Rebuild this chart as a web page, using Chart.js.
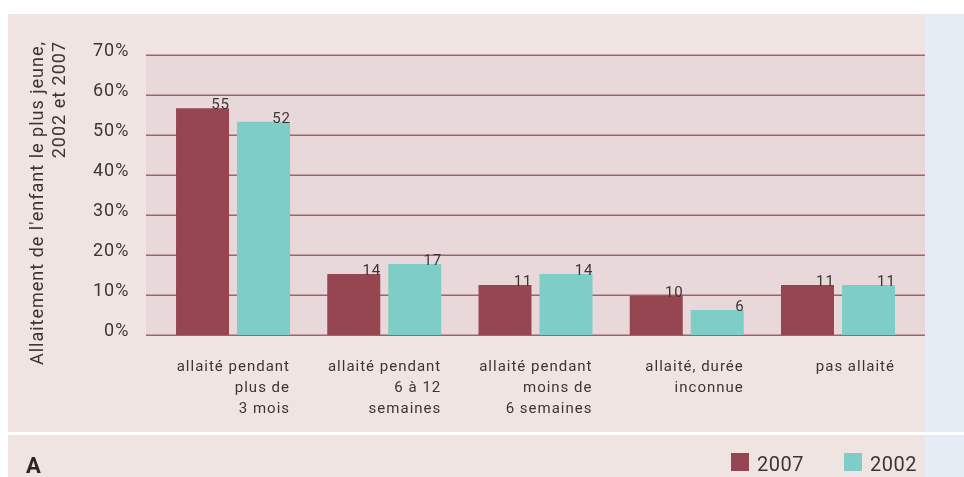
<!DOCTYPE html>
<html>
<head>
<meta charset="utf-8">
<script src="https://cdn.jsdelivr.net/npm/chart.js@4"></script>
<style>
  html, body { margin: 0; padding: 0; background: #ffffff; }
  #wrap { width: 964px; height: 477px; position: relative; }
  canvas { display: block; }
</style>
</head>
<body>
<div id="wrap"><canvas id="c" width="964" height="477"></canvas></div>
<script>
// ---- data ----
const categories = [
  ['allaité pendant', 'plus de', '3 mois'],
  ['allaité pendant', '6 à 12', 'semaines'],
  ['allaité pendant', 'moins de', '6 semaines'],
  ['allaité, durée', 'inconnue'],
  ['pas allaité']
];
const seriesNames = ['2007', '2002'];
const values2007 = [56.7, 15.25, 12.5, 9.8, 12.5];
const values2002 = [53.3, 17.75, 15.25, 6.25, 12.5];
const labels2007 = ['55', '14', '11', '10', '11'];
const labels2002 = ['52', '17', '14', '6', '11'];
const yTicks = [0, 10, 20, 30, 40, 50, 60, 70];
const yTitle = ["Allaitement de l'enfant le plus jeune,", '2002 et 2007'];
const panelLetter = 'A';

// ---- styles ----
const COL2007 = '#964650';
const COL2002 = '#7ecec7';
const PINK = '#f0e4e3';
const PLOTBG = '#e8d8d9';
const BLUE = '#e5ecf4';
const GRID = '#a5616b';
const TEXT = '#3b3535';
const FONT = 'Roboto, "Open Sans", sans-serif';

const backgroundPlugin = {
  id: 'bg',
  beforeDraw(chart) {
    const ctx = chart.ctx;
    const ca = chart.chartArea;
    ctx.save();
    ctx.fillStyle = '#ffffff';
    ctx.fillRect(0, 0, 964, 477);
    ctx.fillStyle = PINK;
    ctx.fillRect(8, 14, 917, 418);
    ctx.fillRect(8, 435, 917, 42);
    ctx.fillStyle = BLUE;
    ctx.fillRect(925, 14, 39, 418);
    ctx.fillRect(925, 435, 39, 42);
    const left = 146, right = 925;
    ctx.fillStyle = PLOTBG;
    ctx.fillRect(left, ca.top, right - left, ca.bottom - ca.top);
    const ys = chart.scales.y;
    ctx.strokeStyle = GRID;
    ctx.lineWidth = 1.6;
    ys.ticks.forEach(t => {
      const y = Math.round(ys.getPixelForValue(t.value)) + 0.2;
      ctx.beginPath();
      ctx.moveTo(left, y);
      ctx.lineTo(right, y);
      ctx.stroke();
    });
    ctx.restore();
    ctx.letterSpacing = '1px';
  }
};

const textPlugin = {
  id: 'texts',
  afterDraw(chart) {
    const ctx = chart.ctx;
    ctx.save();
    // value labels
    const valueLabels = [labels2007, labels2002];
    ctx.font = '15px ' + FONT;
    ctx.letterSpacing = '1px';
    ctx.fillStyle = TEXT;
    ctx.textAlign = 'right';
    ctx.textBaseline = 'alphabetic';
    chart.data.datasets.forEach((ds, i) => {
      const meta = chart.getDatasetMeta(i);
      meta.data.forEach((el, j) => {
        ctx.fillText(valueLabels[i][j], el.x + el.width / 2 + 1, el.y + 1);
      });
    });
    // y title
    ctx.save();
    ctx.font = '18px ' + FONT;
    ctx.letterSpacing = '1px';
    ctx.translate(43, 41);
    ctx.rotate(-Math.PI / 2);
    ctx.textAlign = 'right';
    ctx.fillText(yTitle[0], 0, 0);
    ctx.fillText(yTitle[1], 0, 22);
    ctx.restore();
    // panel letter
    ctx.font = 'bold 22px ' + FONT;
    ctx.letterSpacing = '0px';
    ctx.textAlign = 'left';
    ctx.fillStyle = '#2b2626';
    ctx.fillText(panelLetter, 26, 473);
    // legend
    const lx = [731, 844];
    ctx.font = '20px ' + FONT;
    ctx.letterSpacing = '0.5px';
    chart.data.datasets.forEach((ds, i) => {
      ctx.fillStyle = ds.backgroundColor;
      ctx.fillRect(lx[i], 453, 18, 18);
      ctx.fillStyle = TEXT;
      ctx.fillText(ds.label, lx[i] + 26, 471);
    });
    ctx.restore();
  }
};

new Chart(document.getElementById('c'), {
  type: 'bar',
  data: {
    labels: categories,
    datasets: [
      { label: seriesNames[0], data: values2007, backgroundColor: COL2007 },
      { label: seriesNames[1], data: values2002, backgroundColor: COL2002 }
    ]
  },
  options: {
    responsive: false,
    animation: false,
    devicePixelRatio: 1,
    layout: { padding: { left: 0, right: 50.4, top: 55, bottom: 0 } },
    datasets: { bar: { categoryPercentage: 0.8066, barPercentage: 0.869 } },
    plugins: { legend: { display: false }, tooltip: { enabled: false } },
    scales: {
      x: {
        grid: { display: false, drawTicks: false },
        border: { display: false },
        afterFit(s) { s.height = 142; },
        ticks: {
          align: 'end',
          labelOffset: 57,
          padding: 22,
          color: TEXT,
          maxRotation: 0,
          autoSkip: false,
          font: { family: FONT, size: 15, lineHeight: 1.4 }
        }
      },
      y: {
        min: 0,
        max: 70,
        afterFit(s) { s.width = 157.4; },
        afterBuildTicks(s) { s.ticks = yTicks.map(v => ({ value: v })); },
        grid: { display: false, drawTicks: false },
        border: { display: false },
        ticks: {
          padding: 28,
          labelOffset: -4,
          color: TEXT,
          font: { family: FONT, size: 18 },
          callback: v => v + '%'
        }
      }
    }
  },
  plugins: [backgroundPlugin, textPlugin]
});
</script>
</body>
</html>
